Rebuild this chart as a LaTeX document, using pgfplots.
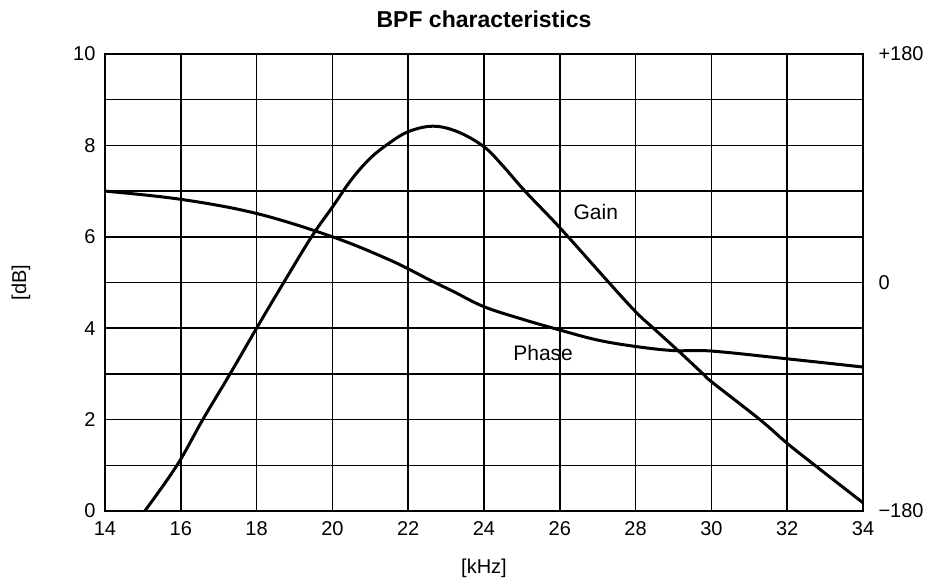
\documentclass[border=0pt]{standalone}
\usepackage{pgfplots}
\pgfplotsset{compat=1.18}
\usepackage{fontspec}
\setmainfont{Liberation Sans}
\begin{document}
\begin{tikzpicture}
\begin{axis}[
  name=main,
  scale only axis,
  width=758pt, height=457pt,
  xmin=14, xmax=34, ymin=0, ymax=10,
  xtick={14,16,...,34},
  ytick={0,2,...,10},
  minor ytick={1,3,...,9},
  grid=both,
  major grid style={black, line width=1.5pt},
  minor grid style={black, line width=1.5pt},
  axis line style={black, line width=2pt},
  major tick length=0pt, minor tick length=0pt,
  /pgf/number format/assume math mode=true,
  tick label style={font=\fontsize{20}{23}\selectfont},
  xticklabel style={yshift=-7pt},
  yticklabel style={xshift=-6pt},
  xlabel={[kHz]},
  ylabel={[dB]},
  label style={font=\fontsize{20}{23}\selectfont},
  xlabel style={at={(ticklabel cs:0.5)}, yshift=-16pt},
  ylabel style={at={(ticklabel cs:0.5)}, yshift=36pt},
  title={BPF characteristics},
  title style={font=\fontsize{23}{26}\selectfont\bfseries, yshift=17pt},
  clip=false,
]
\addplot[black, line width=3pt, smooth, tension=0.6] coordinates {
(15.05,0) (15.9,1) (16.58,2) (17.3,3) (18,4) (18.6,4.84) (19.45,6) (20,6.65)
(20.5,7.25) (21,7.72) (21.5,8.05) (22,8.3) (22.65,8.42) (23.3,8.3) (24,7.97)
(24.5,7.55) (25.08,7.0) (26,6.2) (27.24,5.05) (28,4.36) (28.47,4.0) (29.12,3.51)
(29.78,3.0) (30,2.83) (31.28,2.0) (32,1.48) (32.73,1.0) (34,0.18)
};
\addplot[black, line width=3pt, smooth, tension=0.6] coordinates {
(14,7.0) (16,6.82) (18,6.51) (20,6.0) (21.52,5.49) (22.58,5.05) (23.2,4.8)
(24,4.47) (25,4.2) (26,3.96) (27,3.74) (28,3.6) (29,3.51) (30,3.5) (32,3.33) (34,3.15)
};
\node[font=\fontsize{21}{24}\selectfont] at (axis cs:26.95,6.55) {Gain};
\node[font=\fontsize{21}{24}\selectfont] at (axis cs:25.56,3.46) {Phase};
\end{axis}
\begin{axis}[
  scale only axis,
  width=758pt, height=457pt,
  at={(main.south west)}, anchor=south west,
  xmin=14, xmax=34, ymin=-180, ymax=180,
  axis x line=none,
  axis y line*=right,
  axis line style={draw=none},
  ytick={-180,0,180},
  yticklabels={−180,0,+180},
  major tick length=0pt,
  tick label style={font=\fontsize{20}{23}\selectfont},
  yticklabel style={anchor=west, xshift=12pt},
]
\addplot[draw=none] coordinates {(14,0)};
\end{axis}
\path (main.south west) ++(-105pt,-72pt) rectangle ++(935pt,583pt);
\end{tikzpicture}
\end{document}
